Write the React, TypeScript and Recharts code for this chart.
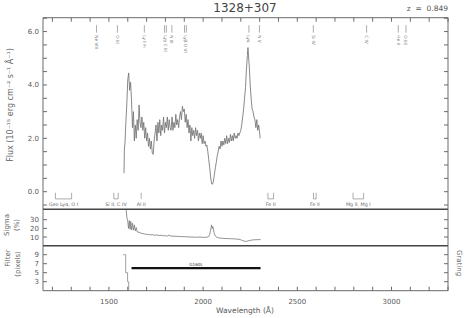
import React from 'react';
import { ComposedChart, Line, Scatter, XAxis, YAxis } from 'recharts';

// ---------- data ----------
const X_DOMAIN: [number, number] = [1150, 3300];
const X_TICKS = [1200, 1300, 1400, 1500, 1600, 1700, 1800, 1900, 2000, 2100, 2200, 2300, 2400, 2500, 2600, 2700, 2800, 2900, 3000, 3100, 3200, 3300];
const X_LABELED = [1500, 2000, 2500, 3000];

const FLUX_DOMAIN: [number, number] = [-0.66, 6.52];
const FLUX_TICKS = [-0.5, 0, 0.5, 1, 1.5, 2, 2.5, 3, 3.5, 4, 4.5, 5, 5.5, 6, 6.5];
const FLUX_LABELED = [0, 2, 4, 6];

const SIGMA_DOMAIN: [number, number] = [0, 42];
const SIGMA_TICKS = [10, 20, 30];

const FILTER_DOMAIN: [number, number] = [1, 11];
const FILTER_TICKS = [3, 5, 7, 9];

// observed wavelength (A), flux (1e-15 erg/cm2/s/A)
const spectrum: [number, number][] = [
  [1580, 0.69], [1582, 1.6], [1585, 1.8], [1590, 2.6], [1595, 3.3], [1600, 4.2], [1605, 4.45], [1610, 3.8],
  [1615, 4.1], [1620, 3.4], [1625, 2.4], [1630, 3.0], [1635, 1.9], [1640, 2.5], [1645, 2.0], [1650, 2.7],
  [1655, 2.3], [1660, 3.25], [1665, 2.6], [1670, 2.4], [1675, 2.8], [1680, 2.3], [1685, 2.6], [1690, 2.0],
  [1695, 2.4], [1700, 1.9], [1705, 2.2], [1710, 1.7], [1715, 2.0], [1720, 1.6], [1725, 1.9], [1730, 1.45],
  [1735, 1.4], [1740, 1.9], [1745, 2.2], [1750, 2.5], [1755, 1.9], [1760, 2.6], [1765, 2.2], [1770, 2.7],
  [1775, 2.1], [1780, 2.5], [1785, 2.3], [1790, 2.8], [1795, 2.2], [1800, 2.6], [1805, 2.4], [1810, 2.8],
  [1815, 2.3], [1820, 2.7], [1825, 2.4], [1830, 2.3], [1835, 2.8], [1840, 2.3], [1845, 2.6], [1850, 2.4],
  [1855, 2.9], [1860, 2.5], [1865, 2.7], [1870, 2.4], [1875, 2.8], [1880, 3.0], [1885, 2.7], [1890, 3.2],
  [1895, 3.0], [1900, 3.1], [1905, 2.6], [1910, 2.9], [1915, 2.4], [1920, 2.7], [1925, 2.2], [1930, 2.5],
  [1935, 1.9], [1940, 2.4], [1945, 2.1], [1950, 2.3], [1955, 2.0], [1960, 2.4], [1965, 2.1], [1970, 2.3],
  [1975, 1.9], [1980, 2.2], [1985, 2.0], [1990, 2.2], [1995, 1.8], [2000, 2.1], [2005, 1.8], [2010, 1.9],
  [2015, 1.7], [2020, 1.75], [2025, 1.5], [2030, 1.2], [2035, 0.9], [2040, 0.55], [2045, 0.3], [2050, 0.28],
  [2055, 0.4], [2060, 0.65], [2065, 0.9], [2070, 1.1], [2075, 1.35], [2080, 1.5], [2085, 1.7], [2090, 1.6],
  [2095, 1.9], [2100, 1.7], [2105, 1.9], [2110, 1.75], [2115, 2.0], [2120, 1.8], [2125, 2.1], [2130, 1.8],
  [2135, 2.0], [2140, 1.85], [2145, 2.15], [2150, 1.9], [2155, 2.1], [2160, 1.9], [2165, 2.2], [2170, 2.0],
  [2175, 2.1], [2180, 2.0], [2185, 2.2], [2190, 2.1], [2195, 2.2], [2200, 2.3], [2205, 2.5], [2210, 2.8],
  [2215, 3.1], [2220, 3.5], [2225, 3.9], [2230, 4.6], [2235, 5.1], [2238, 5.4], [2245, 4.7], [2250, 4.0],
  [2255, 3.5], [2260, 3.1], [2265, 3.0], [2270, 2.8], [2275, 2.7], [2280, 2.4], [2285, 2.7], [2290, 2.3],
  [2295, 2.5], [2300, 2.2], [2303, 2.0],
];

// observed wavelength (A), sigma (%)
const sigma: [number, number][] = [
  [1590, 45], [1595, 33], [1600, 28], [1604, 20], [1608, 29], [1612, 19], [1616, 28], [1620, 18],
  [1625, 26], [1630, 18], [1635, 24], [1640, 17], [1645, 21], [1650, 16], [1660, 15.5], [1670, 14.5],
  [1680, 14], [1690, 13.5], [1700, 13], [1710, 13], [1720, 12.5], [1730, 12.8], [1740, 12], [1750, 12.4],
  [1760, 12], [1770, 11.8], [1780, 12], [1790, 11.4], [1800, 11.6], [1810, 11], [1820, 12.5], [1825, 11.2],
  [1840, 11], [1860, 10.8], [1880, 10.5], [1900, 10.4], [1920, 10.2], [1940, 10], [1960, 9.8], [1980, 10],
  [2000, 9.6], [2020, 9.8], [2030, 10.5], [2035, 13], [2040, 18], [2045, 24], [2048, 20], [2052, 22],
  [2058, 15], [2065, 11], [2075, 9.5], [2090, 8.8], [2110, 8.4], [2130, 8.2], [2150, 8], [2170, 7.8],
  [2190, 7.4], [2200, 6.8], [2210, 5.8], [2220, 5.2], [2230, 5], [2240, 5.6], [2255, 6.4], [2270, 6.8],
  [2290, 7], [2305, 7],
];

// observed wavelength (A), filter width (pixels)
const filterSteps: [number, number][] = [
  [1576, 9], [1589, 9], [1589, 5], [1599, 5], [1599, 3], [1605, 3], [1605, 1],
];

const gratingName = 'G160L';
const gratingRange: [number, number] = [1620, 2305];
const gratingLevel = 6;

// emission line identifications (observed wavelength)
const lineIdWave = [1434, 1545, 1688, 1800, 1834, 1906, 2243, 2299, 2585, 2868, 3036, 3077];
const lineIdLabel = ['Ne VIII', 'O III', 'Ly lim', 'Lyγ C III', 'N III', 'Lyβ O VI', 'Lyα', 'N V', 'Si IV', 'C IV', 'He II', 'O III]'];
const lineIdDouble = [false, false, false, true, false, true, false, false, false, false, false, false];
const LINE_ID_LEVEL = 6.24;

// absorption features (observed wavelength ranges)
const absStart = [1216, 1526, 1671, 2344, 2586, 2796];
const absEnd = [1302, 1549, 1671, 2374, 2600, 2852];
const absLabel = ['Geo Lyα, O I', 'Si II, C IV', 'Al II', 'Fe II', 'Fe II', 'Mg II, Mg I'];
const ABS_TOP = -0.04;
const ABS_BOT = -0.27;
const ABS_TEXT = -0.54;

// ---------- derived tables ----------
const specData = spectrum.map(([w, v]) => ({ w, v }));
const sigmaData = sigma.map(([w, v]) => ({ w, v }));
const filterData = filterSteps.map(([w, v]) => ({ w, v }));
const gratingData = gratingRange.map((w) => ({ w, v: gratingLevel }));
const gratingLabelData = [{ w: (gratingRange[0] + gratingRange[1]) / 2, v: gratingLevel, label: gratingName }];
const lineIdData = lineIdWave.map((w, i) => ({ w, v: LINE_ID_LEVEL, label: lineIdLabel[i], double: lineIdDouble[i] }));
const absBrackets = absStart.map((s, i) => {
  const e = absEnd[i];
  return s === e
    ? [{ w: s, v: ABS_TOP }, { w: s, v: ABS_BOT }]
    : [{ w: s, v: ABS_TOP }, { w: s, v: ABS_BOT }, { w: e, v: ABS_BOT }, { w: e, v: ABS_TOP }];
});
const absLabelData = absStart.map((s, i) => ({ w: (s + absEnd[i]) / 2, v: ABS_TEXT, label: absLabel[i] }));

// ---------- styles ----------
const W = 468;
const H = 318;
const FONT = 'DejaVu Sans, sans-serif';
const AXIS_C = '#6a6a6a';
const SEP_C = '#454545';
const TXT_C = '#5a5a5a';
const tickStyle = { fill: TXT_C, fontSize: 7, fontFamily: FONT };

const LineIdMark = (props: any) => {
  const { cx, cy, payload } = props;
  if (cx == null || cy == null) return null;
  const xs = payload.double ? [cx - 0.9, cx + 0.9] : [cx];
  return (
    <g>
      {xs.map((x: number, i: number) => (
        <line key={i} x1={x} x2={x} y1={cy} y2={cy + 7.5} stroke="#888" strokeWidth={0.7} />
      ))}
      <text
        transform={`translate(${cx},${cy + 10}) rotate(90)`}
        dy="0.35em"
        fontSize={4.3}
        fill="#777"
        fontFamily={FONT}
      >
        {payload.label}
      </text>
    </g>
  );
};

const CenterText = (size: number, color: string) => (props: any) => {
  const { cx, cy, payload } = props;
  if (cx == null || cy == null) return null;
  return (
    <text x={cx} y={cy} textAnchor="middle" fontSize={size} fill={color} fontFamily={FONT}>
      {payload.label}
    </text>
  );
};

const GratingText = (props: any) => {
  const { cx, cy, payload } = props;
  if (cx == null || cy == null) return null;
  return (
    <text x={cx} y={cy - 2.2} textAnchor="middle" fontSize={4.2} fill="#333" fontFamily={FONT}>
      {payload.label}
    </text>
  );
};

const blank = () => '';

export default function App() {
  return (
    <div style={{ position: 'absolute', left: 0, top: 0, width: W, height: H, background: '#fff' }}>
      {/* main flux panel */}
      <div style={{ position: 'absolute', left: 0, top: 0 }}>
        <ComposedChart width={W} height={H} margin={{ top: 0, right: 0, bottom: 108.7, left: 0 }}>
          <XAxis
            xAxisId="t"
            dataKey="w"
            type="number"
            orientation="top"
            domain={X_DOMAIN}
            allowDataOverflow
            ticks={X_TICKS}
            interval={0}
            tickFormatter={blank}
            tickSize={-4}
            height={17.7}
            stroke={AXIS_C}
            tick={tickStyle}
          />
          <YAxis
            yAxisId="l"
            dataKey="v"
            type="number"
            domain={FLUX_DOMAIN}
            allowDataOverflow
            ticks={FLUX_TICKS}
            interval={0}
            tickFormatter={(v: number) => (FLUX_LABELED.includes(v) ? v.toFixed(1) : '')}
            tickSize={-4}
            tickMargin={8}
            width={43}
            stroke={AXIS_C}
            tick={tickStyle}
          />
          <YAxis
            yAxisId="r"
            orientation="right"
            type="number"
            domain={FLUX_DOMAIN}
            allowDataOverflow
            ticks={FLUX_TICKS}
            interval={0}
            tickFormatter={blank}
            tickSize={-4}
            width={20}
            stroke={AXIS_C}
            tick={tickStyle}
          />
          <Line
            xAxisId="t"
            yAxisId="l"
            data={specData}
            dataKey="v"
            type="linear"
            stroke="#747474"
            strokeWidth={0.85}
            dot={false}
            activeDot={false}
            isAnimationActive={false}
          />
          {absBrackets.map((d, i) => (
            <Line
              key={'ab' + i}
              xAxisId="t"
              yAxisId="l"
              data={d}
              dataKey="v"
              type="linear"
              stroke="#888"
              strokeWidth={0.7}
              dot={false}
              activeDot={false}
              isAnimationActive={false}
            />
          ))}
          <Scatter
            xAxisId="t"
            yAxisId="l"
            data={absLabelData}
            dataKey="v"
            shape={CenterText(4.8, '#666')}
            isAnimationActive={false}
          />
          <Scatter
            xAxisId="t"
            yAxisId="l"
            data={lineIdData}
            dataKey="v"
            shape={LineIdMark}
            isAnimationActive={false}
          />
        </ComposedChart>
      </div>

      {/* sigma panel */}
      <div style={{ position: 'absolute', left: 0, top: 0 }}>
        <ComposedChart width={W} height={H} margin={{ top: 208.3, right: 0, bottom: 72.3, left: 0 }}>
          <XAxis
            xAxisId="t"
            dataKey="w"
            type="number"
            orientation="top"
            domain={X_DOMAIN}
            allowDataOverflow
            tick={false}
            height={1}
            axisLine={{ stroke: SEP_C, strokeWidth: 1.5 }}
          />
          <YAxis
            yAxisId="l"
            dataKey="v"
            type="number"
            domain={SIGMA_DOMAIN}
            allowDataOverflow
            ticks={SIGMA_TICKS}
            interval={0}
            tickSize={-4}
            tickMargin={8}
            width={43}
            stroke={AXIS_C}
            tick={tickStyle}
          />
          <YAxis
            yAxisId="r"
            orientation="right"
            type="number"
            domain={SIGMA_DOMAIN}
            allowDataOverflow
            ticks={SIGMA_TICKS}
            interval={0}
            tickFormatter={blank}
            tickSize={-4}
            width={20}
            stroke={AXIS_C}
            tick={tickStyle}
          />
          <Line
            xAxisId="t"
            yAxisId="l"
            data={sigmaData}
            dataKey="v"
            type="linear"
            stroke="#777"
            strokeWidth={0.8}
            dot={false}
            activeDot={false}
            isAnimationActive={false}
          />
        </ComposedChart>
      </div>

      {/* filter / grating panel */}
      <div style={{ position: 'absolute', left: 0, top: 0 }}>
        <ComposedChart width={W} height={H} margin={{ top: 244.7, right: 0, bottom: 0, left: 0 }}>
          <XAxis
            xAxisId="t"
            dataKey="w"
            type="number"
            orientation="top"
            domain={X_DOMAIN}
            allowDataOverflow
            tick={false}
            height={1}
            axisLine={{ stroke: SEP_C, strokeWidth: 1.5 }}
          />
          <XAxis
            xAxisId="b"
            dataKey="w"
            type="number"
            orientation="bottom"
            domain={X_DOMAIN}
            allowDataOverflow
            ticks={X_TICKS}
            interval={0}
            tickFormatter={(v: number) => (X_LABELED.includes(v) ? String(v) : '')}
            tickSize={-4}
            tickMargin={12}
            height={27.3}
            stroke={AXIS_C}
            tick={tickStyle}
          />
          <YAxis
            yAxisId="l"
            dataKey="v"
            type="number"
            domain={FILTER_DOMAIN}
            allowDataOverflow
            ticks={FILTER_TICKS}
            interval={0}
            tickSize={-4}
            tickMargin={8}
            width={43}
            stroke={AXIS_C}
            tick={tickStyle}
          />
          <YAxis
            yAxisId="r"
            orientation="right"
            type="number"
            domain={FILTER_DOMAIN}
            allowDataOverflow
            ticks={FILTER_TICKS}
            interval={0}
            tickFormatter={blank}
            tickSize={-4}
            width={20}
            stroke={AXIS_C}
            tick={tickStyle}
          />
          <Line
            xAxisId="b"
            yAxisId="l"
            data={filterData}
            dataKey="v"
            type="linear"
            stroke="#888"
            strokeWidth={0.8}
            dot={false}
            activeDot={false}
            isAnimationActive={false}
          />
          <Line
            xAxisId="b"
            yAxisId="l"
            data={gratingData}
            dataKey="v"
            type="linear"
            stroke="#111"
            strokeWidth={2.2}
            dot={false}
            activeDot={false}
            isAnimationActive={false}
          />
          <Scatter
            xAxisId="b"
            yAxisId="l"
            data={gratingLabelData}
            dataKey="v"
            shape={GratingText}
            isAnimationActive={false}
          />
        </ComposedChart>
      </div>

      {/* titles and axis captions */}
      <svg
        width={W}
        height={H}
        style={{ position: 'absolute', left: 0, top: 0, pointerEvents: 'none' }}
        fontFamily={FONT}
      >
        <text x={245} y={12} textAnchor="middle" fontSize={12} fill="#444">1328+307</text>
        <text x={448} y={10.5} textAnchor="end" fontSize={7.5} fill="#555" style={{ whiteSpace: 'pre' }}>{'z  =  0.849'}</text>
        <text x={245} y={313} textAnchor="middle" fontSize={7.5} fill="#555">Wavelength (Å)</text>
        <text transform="translate(12.5,105) rotate(-90)" textAnchor="middle" fontSize={8} fill="#666">
          Flux (10⁻¹⁵ erg cm⁻² s⁻¹ Å⁻¹)
        </text>
        <text transform="translate(8.5,225) rotate(-90)" textAnchor="middle" fontSize={7} fill="#666">Sigma</text>
        <text transform="translate(18.5,225) rotate(-90)" textAnchor="middle" fontSize={7} fill="#666">(%)</text>
        <text transform="translate(10,258) rotate(-90)" textAnchor="middle" fontSize={7} fill="#666">Filter</text>
        <text transform="translate(19.5,264) rotate(-90)" textAnchor="middle" fontSize={7} fill="#666">(pixels)</text>
        <text transform="translate(456.5,263) rotate(90)" textAnchor="middle" fontSize={7} fill="#666">Grating</text>
      </svg>
    </div>
  );
}
